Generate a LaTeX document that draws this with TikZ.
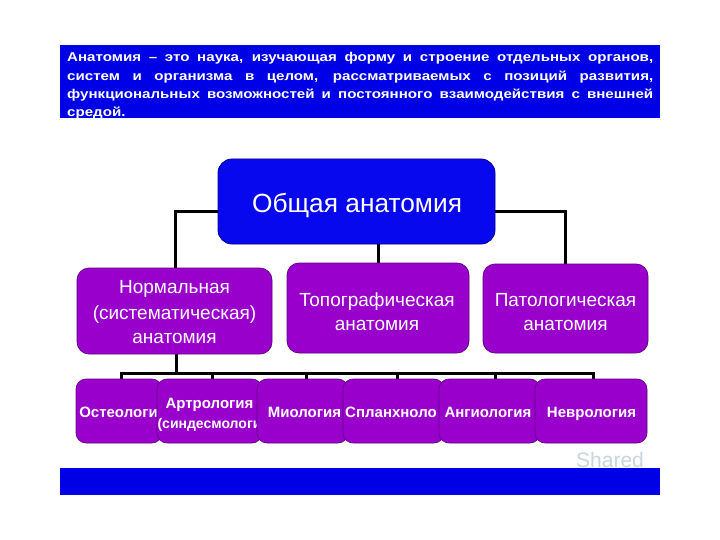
\documentclass[tikz,border=0pt]{standalone}
\usepackage{fontspec}
\setmainfont{Liberation Sans}
\newfontfamily\bannerfont[FakeStretch=1.18]{Liberation Sans}
\definecolor{bannerblue}{RGB}{0,0,230}
\definecolor{topblue}{RGB}{8,8,238}
\definecolor{topedge}{RGB}{0,0,150}
\definecolor{purp}{RGB}{153,0,204}
\definecolor{purpedge}{RGB}{95,0,130}
\definecolor{wmark}{RGB}{200,214,222}
\begin{document}
\begin{tikzpicture}[x=1pt,y=-1pt,
  conn/.style={line width=3pt,black,line join=miter},
  bannerline/.style={anchor=base west,inner sep=0pt,text=white,font=\bannerfont\fontsize{12.8}{18}\selectfont\bfseries},
  topbox/.style={draw=topedge,line width=0.8pt,fill=topblue,rounded corners=14pt,inner sep=0pt},
  midbox/.style={draw=purpedge,line width=0.7pt,fill=purp,rounded corners=12pt,inner sep=0pt},
  lowbox/.style={draw=purpedge,line width=0.6pt,fill=purp,rounded corners=10pt,inner sep=0pt,minimum height=64pt},
  toptxt/.style={anchor=base,inner sep=0pt,text=white,font=\fontsize{26.3}{30}\selectfont},
  midtxt/.style={anchor=base,inner sep=0pt,text=white,font=\fontsize{19}{24}\selectfont},
  lowtxt/.style={anchor=base,inner sep=0pt,text=white,font=\fontsize{15}{19}\selectfont\bfseries}]
\useasboundingbox (0,0) rectangle (720,540);
\fill[white] (0,0) rectangle (720,540);

% banner
\fill[bannerblue] (60,45) rectangle (660,118);
\node[bannerline] (l1) at (67,62) {\makebox[586pt][s]{Анатомия – это наука, изучающая форму и строение отдельных органов,}};
\node[bannerline] (l2) at (67,80.5) {\makebox[586pt][s]{систем и организма в целом, рассматриваемых с позиций развития,}};
\node[bannerline] (l3) at (67,99) {\makebox[586pt][s]{функциональных возможностей и постоянного взаимодействия с внешней}};
\node[bannerline] (l4) at (67,116.5) {средой.};

% bottom bar
\fill[bannerblue] (60,468) rectangle (660,495);
\node[anchor=base west,inner sep=0pt,text=wmark,font=\fontsize{21}{24}\selectfont] (wm) at (576,467) {Shared};

% connector anchors
\coordinate (t1) at (121,373);
\coordinate (t2) at (212,373);
\coordinate (t3) at (306,373);
\coordinate (t4) at (397,373);
\coordinate (t5) at (495,373);
\coordinate (t6) at (593,373);
\coordinate (tm) at (176,373);

% boxes geometry (invisible first, for connectors)
\path (356.5,201.5) node[minimum width=277pt,minimum height=85pt,inner sep=0pt] (top) {};
\path (174.5,311) node[minimum width=195pt,minimum height=86pt,inner sep=0pt] (norm) {};
\path (378,308) node[minimum width=182pt,minimum height=90pt,inner sep=0pt] (topo) {};
\path (565.5,308.5) node[minimum width=165pt,minimum height=89pt,inner sep=0pt] (pat) {};

% connectors (behind the boxes)
\draw[conn] ([yshift=-10.5pt]top.west) -| ([xshift=1pt]norm.north);
\draw[conn] ([yshift=-10.5pt]top.east) -| (pat.north);
\draw[conn] (top.south -| topo.north) -- (topo.north);
\draw[conn] ([xshift=1.5pt]norm.south) -- (tm);
\draw[conn] (121,381) -- (t1) -- (t6) -- (593,381);
\foreach \t in {t2,t3,t4,t5} \draw[conn] (\t) -- ++(0,8);

% boxes
\path (356.5,201.5) node[topbox,minimum width=277pt,minimum height=85pt] (topB) {};
\node[toptxt] (toptext) at (357,212.5) {Общая анатомия};
\path (174.5,311) node[midbox,minimum width=195pt,minimum height=86pt] (normB) {};
\node[midtxt] (n1) at (174.5,293.5) {Нормальная};
\node[midtxt] (n2) at (174.5,319.5) {(систематическая)};
\node[midtxt] (n3) at (174.5,343.5) {анатомия};
\path (378,308) node[midbox,minimum width=182pt,minimum height=90pt] (topoB) {};
\node[midtxt] (o1) at (377,306.5) {Топографическая};
\node[midtxt] (o2) at (377,330.5) {анатомия};
\path (565.5,308.5) node[midbox,minimum width=165pt,minimum height=89pt] (patB) {};
\node[midtxt] (p1) at (565.5,306.5) {Патологическая};
\node[midtxt] (p2) at (565.5,330.5) {анатомия};

% bottom row, each later box drawn over the previous one
\node[lowbox,minimum width=86pt] (b1) at (119,411) {};
\node[lowtxt] (b1t) at (118.5,417) {Остеологи};
\node[lowbox,minimum width=105pt] (b2) at (209.5,411) {};
\node[lowtxt] (b2t) at (209.5,408) {Артрология};
\node[lowtxt,font=\fontsize{14}{19}\selectfont\bfseries] (b2u) at (209.5,428) {(синдесмологи};
\node[lowbox,minimum width=91pt] (b3) at (302.5,411) {};
\node[lowtxt] (b3t) at (304.5,417) {Миология};
\node[lowbox,minimum width=101pt] (b4) at (393.5,411) {};
\node[lowtxt] (b4t) at (391,417) {Спланхноло};
\node[lowbox,minimum width=101pt] (b5) at (489.5,411) {};
\node[lowtxt] (b5t) at (488,417) {Ангиология};
\node[lowbox,minimum width=112pt] (b6) at (591,411) {};
\node[lowtxt] (b6t) at (591.5,417) {Неврология};
\end{tikzpicture}
\end{document}
